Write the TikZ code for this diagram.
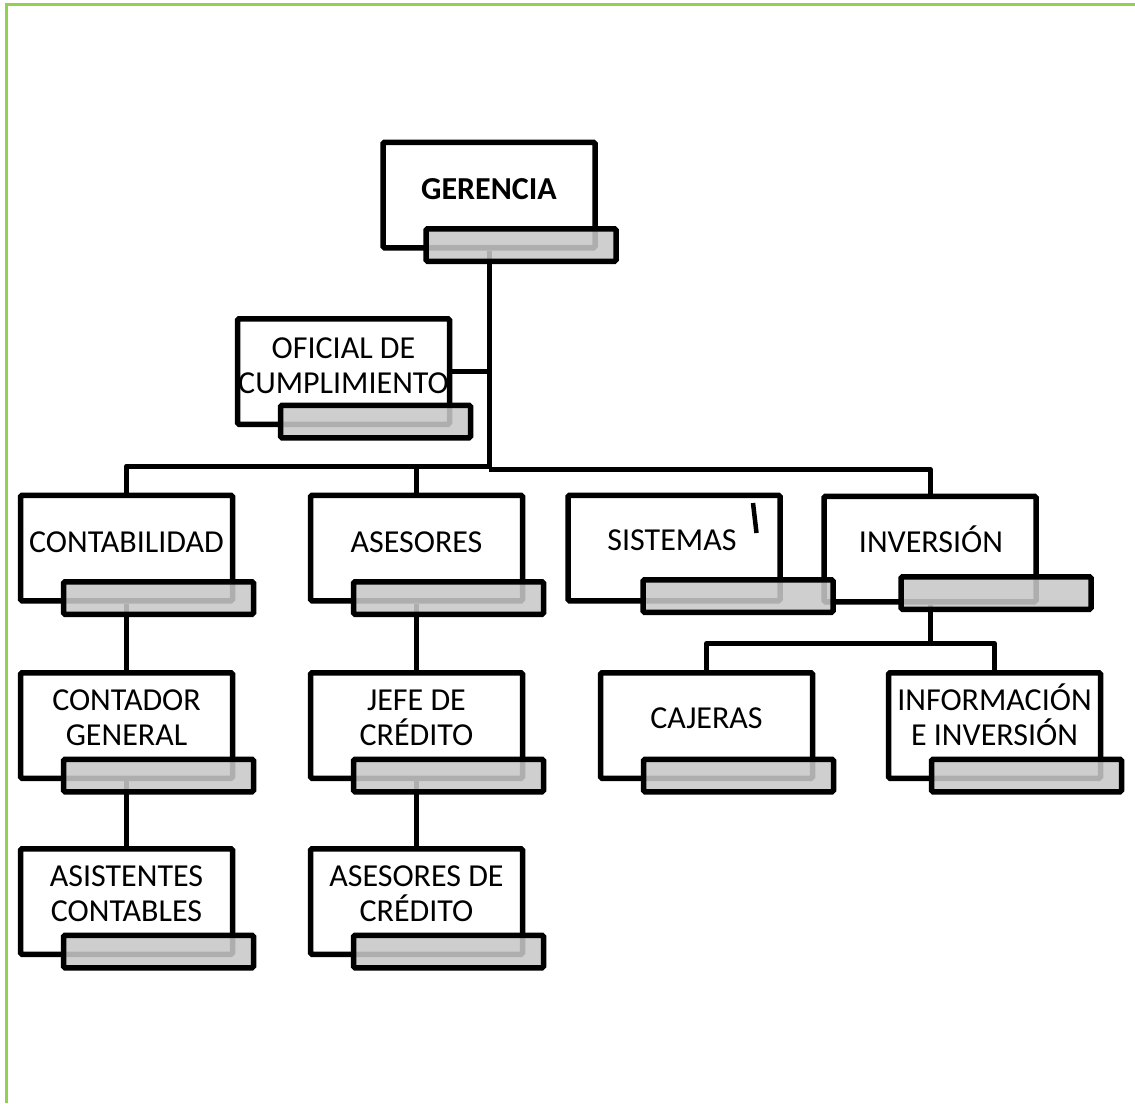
\documentclass[tikz,border=0pt]{standalone}
\usepackage{fontspec}
\setmainfont{Carlito}
\usetikzlibrary{calc}
\pgfdeclarelayer{background}
\pgfsetlayers{background,main}
\definecolor{framegreen}{RGB}{146,208,80}
\definecolor{bargray}{RGB}{200,200,200}
\tikzset{
  unitbox/.style={draw=black, line width=5.5pt, fill=white, minimum width=212pt, minimum height=105.5pt, inner sep=0pt, rounded corners=1.5pt},
  barbox/.style={draw=black, line width=5.5pt, fill=bargray, fill opacity=0.875, draw opacity=1, minimum width=190pt, minimum height=32.5pt, inner sep=0pt, rounded corners=1.5pt},
  lbl/.style={font=\fontsize{32}{35}\selectfont, align=center, inner sep=0pt, anchor=base},
  conn/.style={line width=5pt, draw=black, line join=round},
}
\begin{document}
\begin{tikzpicture}[x=1pt,y=-1pt]
\useasboundingbox (0,0) rectangle (1135,1103);
\draw[framegreen, line width=3pt] (6.2,1103) -- (6.2,4.3) -- (1135,4.3);

% boxes
\node[unitbox] (ger)   at (489,195) {};
\node[unitbox] (ofi)   at (343.5,371.5) {};
\node[unitbox] (cont)  at (126.5,548) {};
\node[unitbox] (ase)   at (416.5,548) {};
\node[unitbox] (sis)   at (674,548) {};
\node[unitbox] (inv)   at (930,549) {};
\node[unitbox] (contg) at (126.5,725.5) {};
\node[unitbox] (jefe)  at (416.5,725.5) {};
\node[unitbox] (caj)   at (706.5,725.5) {};
\node[unitbox] (info)  at (994.5,725.5) {};
\node[unitbox] (asis)  at (126.5,901.5) {};
\node[unitbox] (asec)  at (416.5,901.5) {};

% bars
\foreach \n in {ger,ofi,cont,ase,contg,jefe,caj,info,asis,asec}
  \node[barbox] (\n-bar) at ($(\n)+(32,50)$) {};
\node[barbox] (sis-bar) at ($(sis)+(64,48)$) {};
\node[barbox] (inv-bar) at ($(inv)+(66,44)$) {};

% labels
\node[lbl] (ger-t)   at ($(ger)+(0,4)$) {\bfseries GERENCIA};
\node[lbl] (ofi-t)   at ($(ofi)+(0,22)$) {OFICIAL DE\\CUMPLIMIENTO};
\node[lbl] (cont-t)  at ($(cont)+(0,4)$) {CONTABILIDAD};
\node[lbl] (ase-t)   at ($(ase)+(0,4)$) {ASESORES};
\node[lbl] (sis-t)   at ($(sis)+(-2,2)$) {SISTEMAS};
\node[lbl] (inv-t)   at ($(inv)+(1,3)$) {INVERSIÓN};
\node[lbl] (contg-t) at ($(contg)+(0,20)$) {CONTADOR\\GENERAL};
\node[lbl] (jefe-t)  at ($(jefe)+(0,20)$) {JEFE DE\\CRÉDITO};
\node[lbl] (caj-t)   at ($(caj)+(0,3)$) {CAJERAS};
\node[lbl] (info-t)  at ($(info)+(0,20)$) {INFORMACIÓN\\E INVERSIÓN};
\node[lbl] (asis-t)  at ($(asis)+(0,20)$) {ASISTENTES\\CONTABLES};
\node[lbl] (asec-t)  at ($(asec)+(0,20)$) {ASESORES DE\\CRÉDITO};

% stray mark
\draw[line width=4.5pt] (753,503) -- (756.5,533);

% connectors
\begin{pgfonlayer}{background}
\coordinate (busL) at (489,466);
\coordinate (busR) at (489,469);
\draw[conn] (ger.south) -- (busR);
\draw[conn] (ofi.east) -- (ofi.east -| busL);
\draw[conn] (busL) -| (cont.north);
\draw[conn] (ase.north) -- (ase.north |- busL);
\draw[conn] (busR) -| (inv.north);
\draw[conn] (cont.south) -- (contg.north);
\draw[conn] (contg.south) -- (asis.north);
\draw[conn] (ase.south) -- (jefe.north);
\draw[conn] (jefe.south) -- (asec.north);
\coordinate (ib) at ($(inv.south)+(0,39)$);
\draw[conn] (inv.south) -- (ib);
\draw[conn] (caj.north) |- (ib) -| (info.north);
\end{pgfonlayer}
\end{tikzpicture}
\end{document}
